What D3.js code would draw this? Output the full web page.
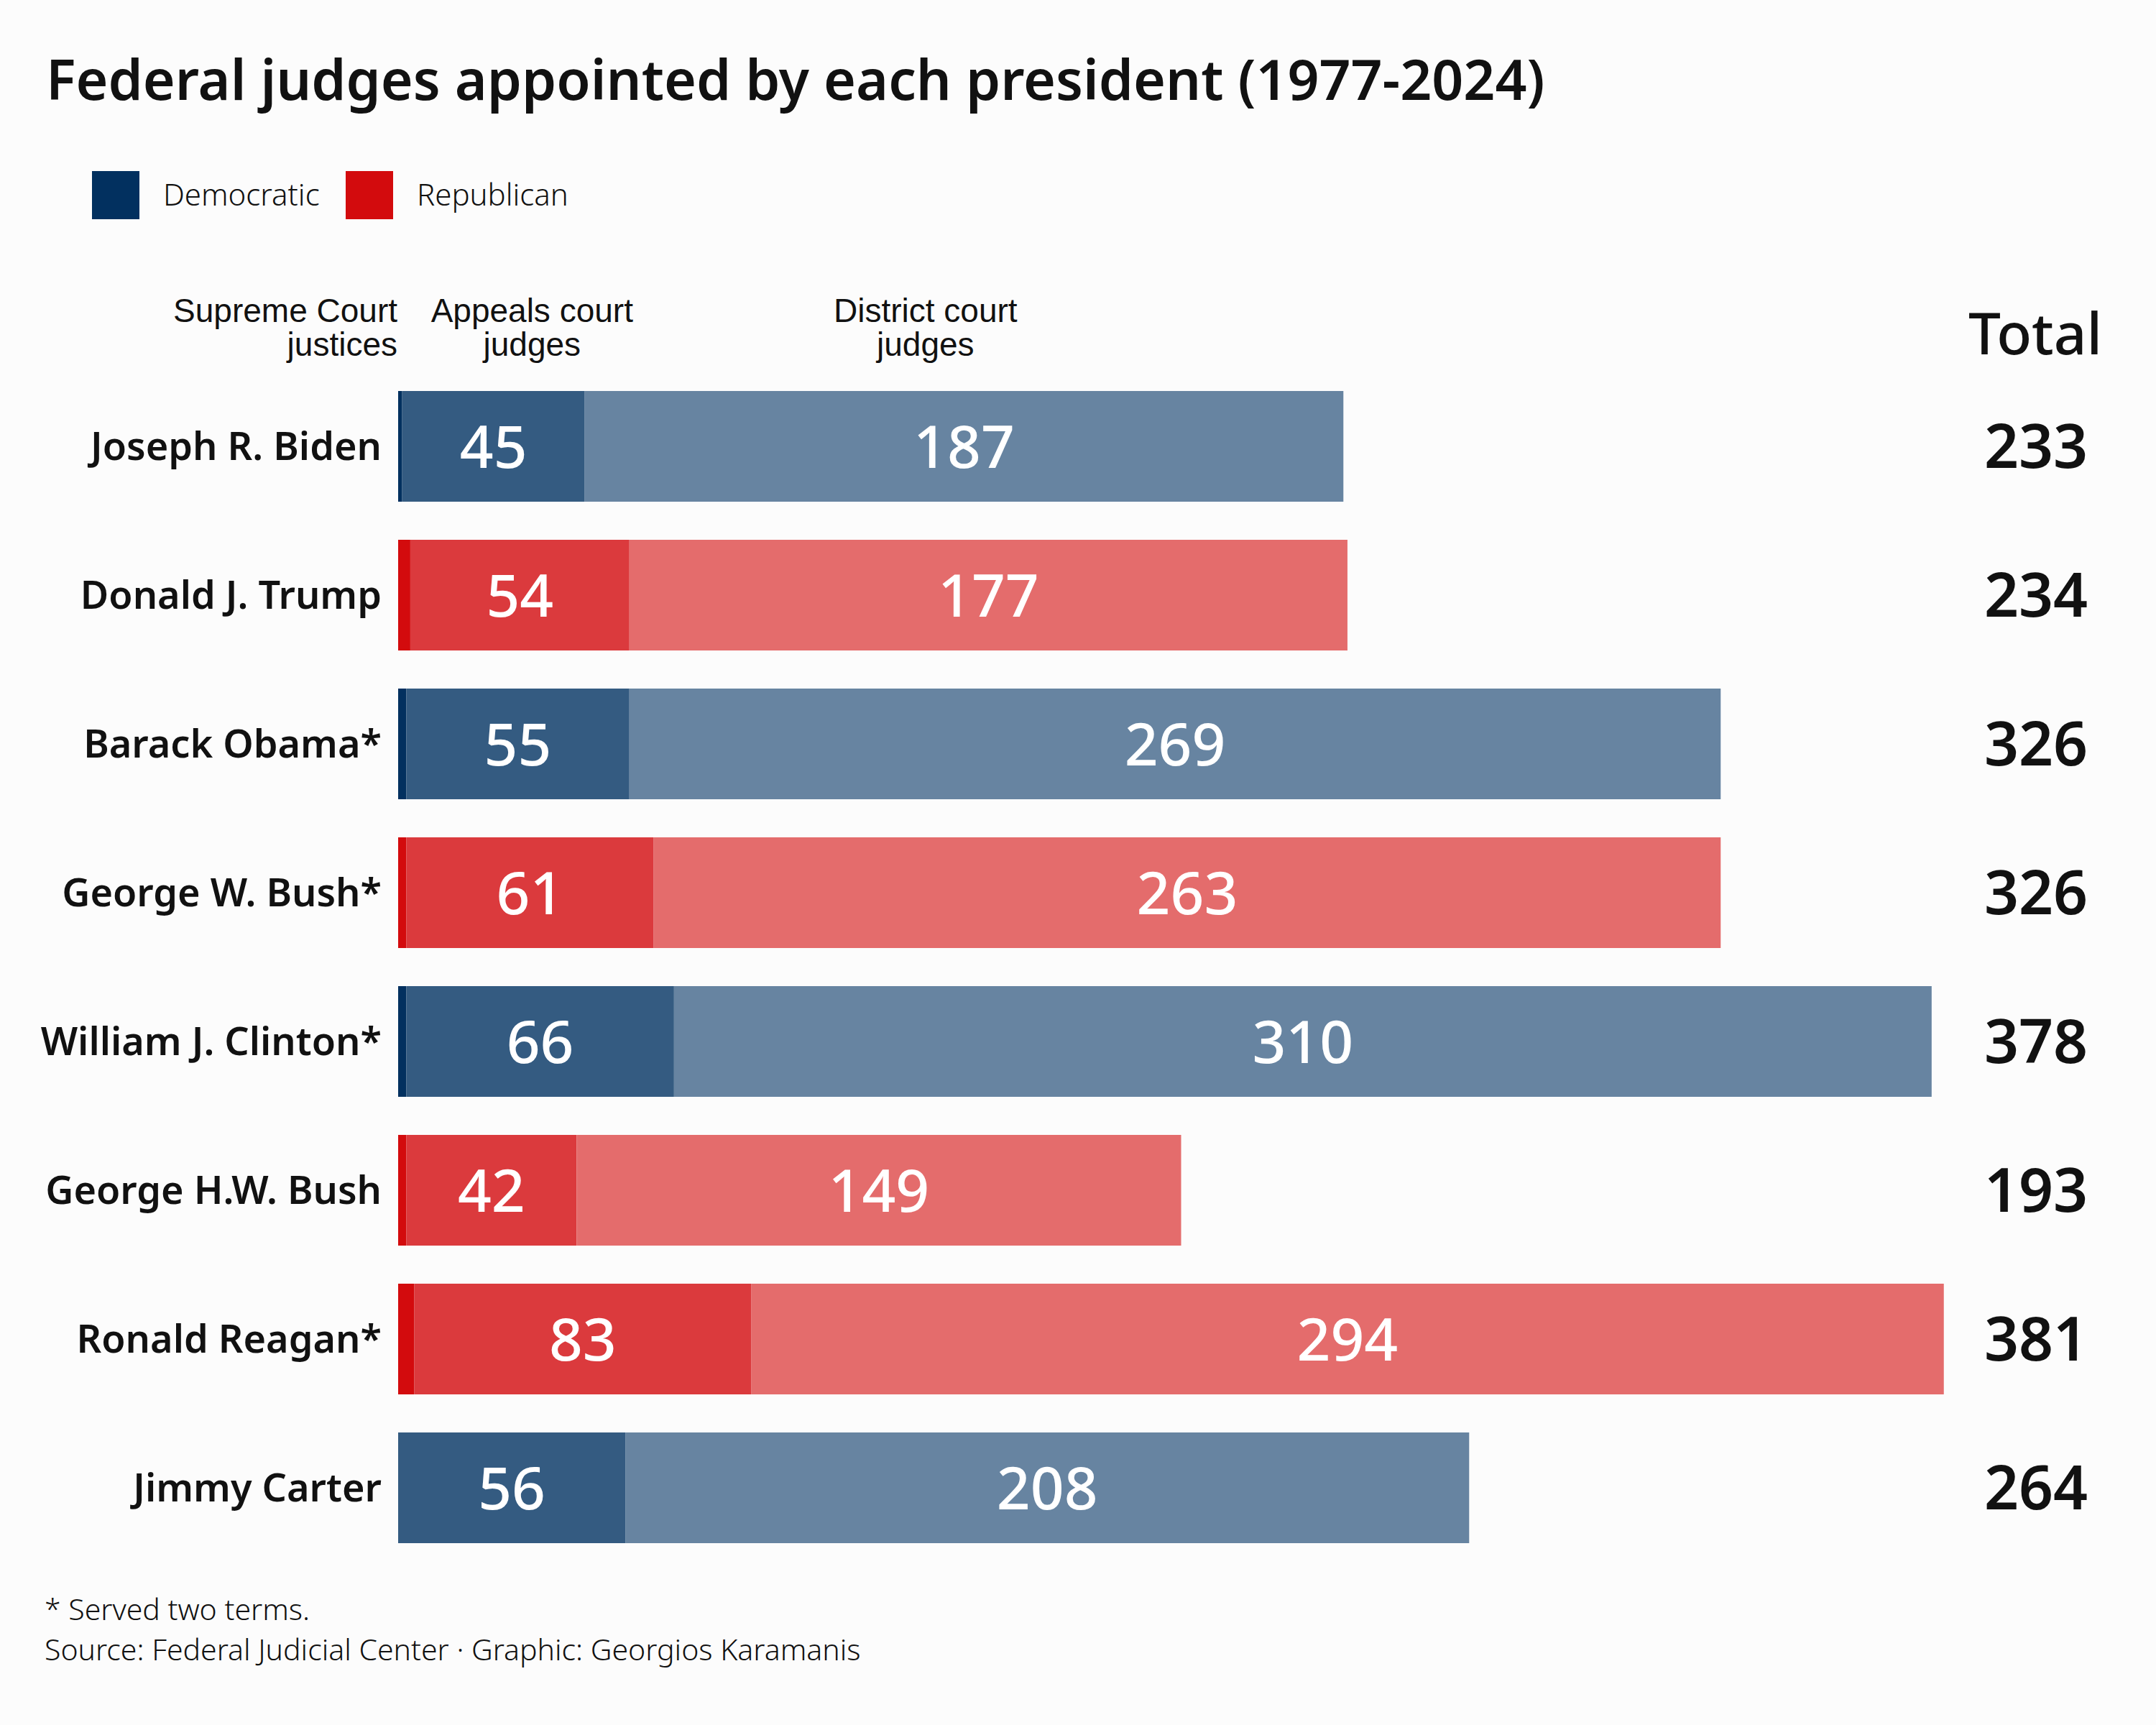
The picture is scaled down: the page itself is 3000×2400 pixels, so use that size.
<!DOCTYPE html>
<html>
<head>
<meta charset="utf-8">
<script src="https://cdn.jsdelivr.net/npm/d3@7"></script>
<style>
  body { margin: 0; background: #fcfcfc; }
  svg { display: block; }
</style>
</head>
<body>
<div id="chart"></div>
<script>
// presidents, top to bottom
const presidents = ["Joseph R. Biden", "Donald J. Trump", "Barack Obama*", "George W. Bush*",
    "William J. Clinton*", "George H.W. Bush", "Ronald Reagan*", "Jimmy Carter"];
const parties = ["D", "R", "D", "R", "D", "R", "R", "D"];
const supremeCourt = [1, 3, 2, 2, 2, 2, 4, 0];
const appealsCourt = [45, 54, 55, 61, 66, 42, 83, 56];
const districtCourt = [187, 177, 269, 263, 310, 149, 294, 208];
const totals = [233, 234, 326, 326, 378, 193, 381, 264];

const courtKeys = ["supreme", "appeals", "district"];
const legendLabels = ["Democratic", "Republican"];

const colors = {
    D: { supreme: "#02305f", appeals: "#345b81", district: "#6784a1" },
    R: { supreme: "#d30b0d", appeals: "#db3a3d", district: "#e46c6c" }
};

const width = 3000, height = 2400;

let rows = presidents.map((p, i) => ({
    name: p,
    party: parties[i],
    supreme: supremeCourt[i],
    appeals: appealsCourt[i],
    district: districtCourt[i],
    total: totals[i]
}));

let svg = d3.select("#chart").append("svg")
    .attr("width", width)
    .attr("height", height)
    .style("background", "#fcfcfc");

let x = d3.scaleLinear().domain([0, 400]).range([554, 554 + 400 * 5.645]);
let y = d3.scaleBand().domain(presidents).range([544, 2147]).paddingInner(0.256).paddingOuter(0);

// title
svg.append("text")
    .attr("x", 64).attr("y", 139)
    .attr("font-family", "Noto Sans")
    .attr("font-weight", 600)
    .attr("font-size", 77)
    .attr("fill", "#111")
    .text("Federal judges appointed by each president (1977-2024)");

// legend
let legend = svg.append("g");
let legendX = [128, 481];
legendLabels.forEach((lab, i) => {
    let party = i === 0 ? "D" : "R";
    legend.append("rect")
        .attr("x", legendX[i]).attr("y", 238)
        .attr("width", 66).attr("height", 67)
        .attr("fill", colors[party].supreme);
    legend.append("text")
        .attr("x", legendX[i] + 99).attr("y", 286)
        .attr("font-family", "Noto Sans")
        .attr("font-weight", 300)
        .attr("font-size", 42)
        .attr("fill", "#111")
        .text(lab);
});

// column headers
let headers = [
    { lines: ["Supreme Court", "justices"], x: x(0) - 1, anchor: "end" },
    { lines: ["Appeals court", "judges"], x: x(33), anchor: "middle" },
    { lines: ["District court", "judges"], x: x(130), anchor: "middle" }
];
headers.forEach(h => {
    let t = svg.append("text")
        .attr("font-family", "Liberation Sans, Arial, sans-serif")
        .attr("font-size", 46)
        .attr("fill", "#111")
        .attr("text-anchor", h.anchor);
    h.lines.forEach((l, j) => {
        t.append("tspan").attr("x", h.x).attr("y", 448 + j * 47).text(l);
    });
});

svg.append("text")
    .attr("x", 2832).attr("y", 493)
    .attr("text-anchor", "middle")
    .attr("font-family", "Noto Sans")
    .attr("font-weight", 500)
    .attr("font-size", 80)
    .attr("fill", "#111")
    .text("Total");

// stacked bars
let stack = d3.stack().keys(courtKeys);
let series = stack(rows);

let layers = svg.selectAll("g.layer")
    .data(series)
    .enter().append("g")
    .attr("class", "layer");

layers.selectAll("rect")
    .data(d => d.map(s => ({ s: s, key: d.key })))
    .enter().append("rect")
    .attr("x", d => x(d.s[0]))
    .attr("y", d => y(d.s.data.name))
    .attr("width", d => x(d.s[1]) - x(d.s[0]))
    .attr("height", y.bandwidth())
    .attr("fill", d => colors[d.s.data.party][d.key]);

// value labels in appeals and district segments
layers.filter(d => d.key !== "supreme")
    .selectAll("text")
    .data(d => d.map(s => ({ s: s, key: d.key })))
    .enter().append("text")
    .attr("x", d => (x(d.s[0]) + x(d.s[1])) / 2)
    .attr("y", d => y(d.s.data.name) + y.bandwidth() / 2)
    .attr("dy", "0.36em")
    .attr("text-anchor", "middle")
    .attr("font-family", "Noto Sans")
    .attr("font-weight", 500)
    .attr("font-size", 82)
    .attr("fill", "#fff")
    .text(d => d.s.data[d.key]);

// president names
svg.selectAll("text.name")
    .data(rows)
    .enter().append("text")
    .attr("class", "name")
    .attr("x", 531)
    .attr("y", d => y(d.name) + y.bandwidth() / 2)
    .attr("dy", "0.36em")
    .attr("text-anchor", "end")
    .attr("font-family", "Noto Sans")
    .attr("font-weight", 600)
    .attr("font-size", 54)
    .attr("fill", "#111")
    .text(d => d.name);

// totals
svg.selectAll("text.total")
    .data(rows)
    .enter().append("text")
    .attr("class", "total")
    .attr("x", 2833)
    .attr("y", d => y(d.name) + y.bandwidth() / 2)
    .attr("dy", "0.36em")
    .attr("text-anchor", "middle")
    .attr("font-family", "Noto Sans")
    .attr("font-weight", 600)
    .attr("font-size", 84)
    .attr("fill", "#111")
    .text(d => d.total);

// footer
let notes = ["* Served two terms.", "Source: Federal Judicial Center · Graphic: Georgios Karamanis"];
notes.forEach((n, i) => {
    svg.append("text")
        .attr("x", 62).attr("y", 2254 + i * 56)
        .attr("font-family", "Noto Sans")
        .attr("font-weight", 300)
        .attr("font-size", 41)
        .attr("fill", "#111")
        .text(n);
});
</script>
</body>
</html>
